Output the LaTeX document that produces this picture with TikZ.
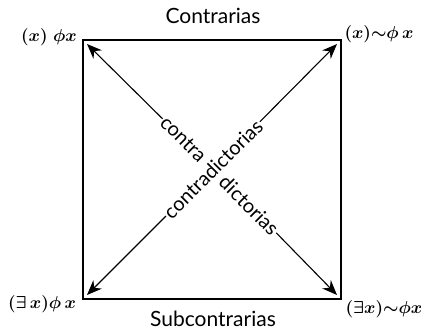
\documentclass[tikz,border=0pt]{standalone}
\usepackage{fontspec}
\setmainfont{Lato}
\usetikzlibrary{arrows.meta,calc}
\begin{document}
\begin{tikzpicture}[x=1pt,y=1pt,
  box/.style={line width=1.3pt},
  diag/.style={line width=1.1pt,-{Stealth[length=15pt,width=12pt]}},
  dlabel/.style={font=\fontsize{20}{24}\selectfont,inner sep=1pt},
  title/.style={font=\fontsize{21}{25}\selectfont,inner sep=0pt},
  formula/.style={font=\fontsize{16}{19}\selectfont\boldmath,inner sep=0pt}]
\useasboundingbox (0,0) rectangle (421,330);
\coordinate (TL) at (83,290);
\coordinate (TR) at (341,290);
\coordinate (BL) at (83,31);
\coordinate (BR) at (341,31);
\coordinate (tl) at (87,286);
\coordinate (tr) at (337,286);
\coordinate (bl) at (87,35);
\coordinate (br) at (337,35);
\coordinate (C) at (213,161);
\draw[box] (TL) rectangle (BR);
% labels
\node[title] (contrarias) at (213,314) {Contrarias};
\node[title] (subcontrarias) at (213,11) {Subcontrarias};
\node[formula] (A) at (49,293) {$(x)\;\phi x$};
\node[formula] (E) at (379,296) {$(x)\mathord{\sim}\phi\, x$};
\node[formula] (I) at (42,26) {$(\exists\, x)\phi\, x$};
\node[formula] (O) at (384,21) {$(\exists x)\mathord{\sim}\phi x$};
% diagonal labels
\node[dlabel,rotate=45] (cd) at (C) {contradictorias};
\node[dlabel,rotate=-45,anchor=east] (contra) at ($(C)+(-9,9)$) {contra};
\node[dlabel,rotate=-45,anchor=west] (dictorias) at ($(C)+(9,-9)$) {dictorias};
% arrows
\draw[diag] (cd) -- (tr);
\draw[diag] (cd) -- (bl);
\draw[diag] (contra) -- (tl);
\draw[diag] (dictorias) -- (br);
\end{tikzpicture}
\end{document}
